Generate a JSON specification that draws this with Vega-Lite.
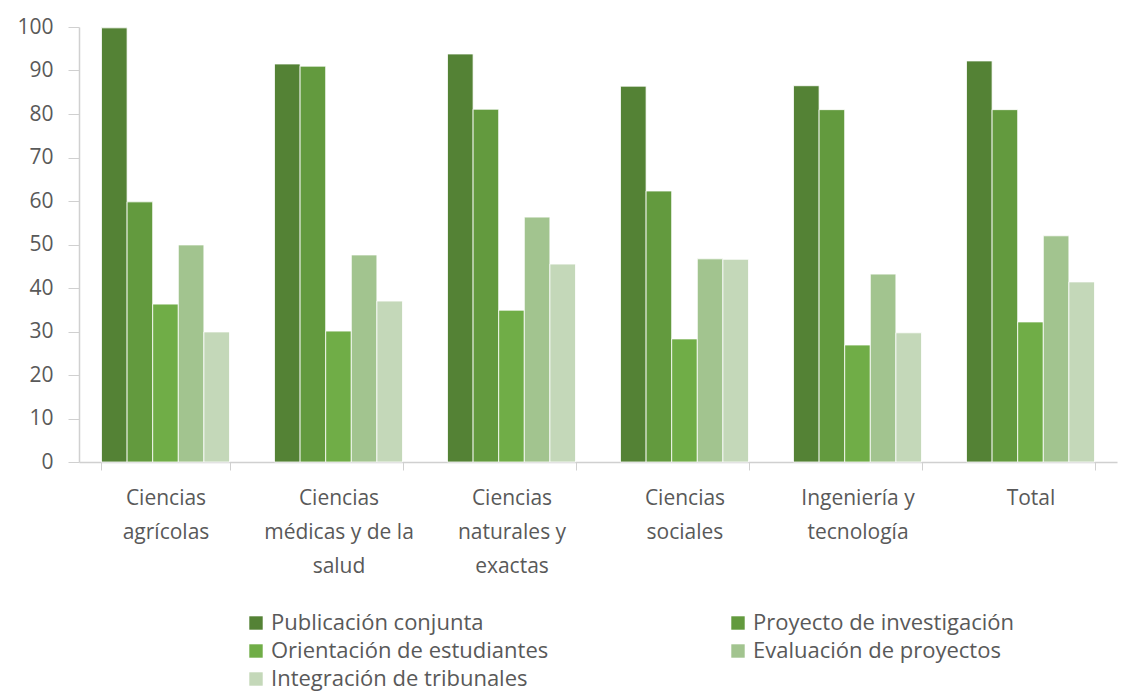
{
  "$schema": "https://vega.github.io/schema/vega-lite/v6.json",
  "width": 1038,
  "height": 435,
  "autosize": {"type": "none"},
  "padding": {"left": 79, "top": 27, "right": 10, "bottom": 229},
  "background": "white",
  "data": {
    "values": [
      {"area": "Ciencias|agrícolas", "tipo": "Publicación conjunta", "valor": 99.8},
      {"area": "Ciencias|agrícolas", "tipo": "Proyecto de investigación", "valor": 59.8},
      {"area": "Ciencias|agrícolas", "tipo": "Orientación de estudiantes", "valor": 36.3},
      {"area": "Ciencias|agrícolas", "tipo": "Evaluación de proyectos", "valor": 49.9},
      {"area": "Ciencias|agrícolas", "tipo": "Integración de tribunales", "valor": 29.9},
      {"area": "Ciencias|médicas y de la|salud", "tipo": "Publicación conjunta", "valor": 91.5},
      {"area": "Ciencias|médicas y de la|salud", "tipo": "Proyecto de investigación", "valor": 91.0},
      {"area": "Ciencias|médicas y de la|salud", "tipo": "Orientación de estudiantes", "valor": 30.1},
      {"area": "Ciencias|médicas y de la|salud", "tipo": "Evaluación de proyectos", "valor": 47.6},
      {"area": "Ciencias|médicas y de la|salud", "tipo": "Integración de tribunales", "valor": 37.0},
      {"area": "Ciencias|naturales y|exactas", "tipo": "Publicación conjunta", "valor": 93.8},
      {"area": "Ciencias|naturales y|exactas", "tipo": "Proyecto de investigación", "valor": 81.1},
      {"area": "Ciencias|naturales y|exactas", "tipo": "Orientación de estudiantes", "valor": 34.9},
      {"area": "Ciencias|naturales y|exactas", "tipo": "Evaluación de proyectos", "valor": 56.3},
      {"area": "Ciencias|naturales y|exactas", "tipo": "Integración de tribunales", "valor": 45.5},
      {"area": "Ciencias|sociales", "tipo": "Publicación conjunta", "valor": 86.4},
      {"area": "Ciencias|sociales", "tipo": "Proyecto de investigación", "valor": 62.3},
      {"area": "Ciencias|sociales", "tipo": "Orientación de estudiantes", "valor": 28.3},
      {"area": "Ciencias|sociales", "tipo": "Evaluación de proyectos", "valor": 46.7},
      {"area": "Ciencias|sociales", "tipo": "Integración de tribunales", "valor": 46.6},
      {"area": "Ingeniería y|tecnología", "tipo": "Publicación conjunta", "valor": 86.5},
      {"area": "Ingeniería y|tecnología", "tipo": "Proyecto de investigación", "valor": 81.0},
      {"area": "Ingeniería y|tecnología", "tipo": "Orientación de estudiantes", "valor": 26.9},
      {"area": "Ingeniería y|tecnología", "tipo": "Evaluación de proyectos", "valor": 43.2},
      {"area": "Ingeniería y|tecnología", "tipo": "Integración de tribunales", "valor": 29.7},
      {"area": "Total", "tipo": "Publicación conjunta", "valor": 92.2},
      {"area": "Total", "tipo": "Proyecto de investigación", "valor": 81.0},
      {"area": "Total", "tipo": "Orientación de estudiantes", "valor": 32.2},
      {"area": "Total", "tipo": "Evaluación de proyectos", "valor": 52.0},
      {"area": "Total", "tipo": "Integración de tribunales", "valor": 41.4}
    ]
  },
  "mark": {"type": "bar", "stroke": "white", "strokeWidth": 0.8},
  "encoding": {
    "x": {
      "field": "area",
      "type": "nominal",
      "sort": null,
      "title": null,
      "scale": {"paddingInner": 0.26, "paddingOuter": 0.13},
      "axis": {
        "labelAngle": 0,
        "labelExpr": "split(datum.label, '|')",
        "labelFont": "Open Sans",
        "labelFontSize": 21,
        "labelColor": "#595959",
        "labelLineHeight": 34,
        "labelPadding": 17,
        "labelBaseline": "top",
        "tickBand": "extent",
        "tickColor": "#d0d0d0",
        "tickSize": 8,
        "domainColor": "#d0d0d0",
        "domainWidth": 1.5
      }
    },
    "xOffset": {
      "field": "tipo",
      "type": "nominal",
      "sort": ["Publicación conjunta", "Proyecto de investigación", "Orientación de estudiantes", "Evaluación de proyectos", "Integración de tribunales"]
    },
    "y": {
      "field": "valor",
      "type": "quantitative",
      "title": null,
      "scale": {"domain": [0, 100], "nice": false},
      "axis": {
        "values": [0, 10, 20, 30, 40, 50, 60, 70, 80, 90, 100],
        "grid": false,
        "labelFont": "Open Sans",
        "labelFontSize": 21,
        "labelColor": "#595959",
        "labelPadding": 15,
        "tickColor": "#d0d0d0",
        "tickSize": 11,
        "domainColor": "#d0d0d0",
        "domainWidth": 1.5
      }
    },
    "color": {
      "field": "tipo",
      "type": "nominal",
      "title": null,
      "scale": {
        "domain": ["Publicación conjunta", "Orientación de estudiantes", "Integración de tribunales", "Proyecto de investigación", "Evaluación de proyectos"],
        "range": ["#548235", "#70AD47", "#C4D8B9", "#639A3E", "#A2C48F"]
      },
      "legend": {
        "orient": "none",
        "legendX": 166,
        "legendY": 585,
        "columns": 2,
        "columnPadding": 178,
        "rowPadding": 6,
        "symbolType": "square",
        "symbolSize": 180,
        "symbolStrokeWidth": 0,
        "labelFont": "Open Sans",
        "labelFontSize": 22,
        "labelColor": "#595959",
        "labelOffset": 4,
        "labelLimit": 400
      }
    }
  },
  "config": {"view": {"stroke": null}}
}
